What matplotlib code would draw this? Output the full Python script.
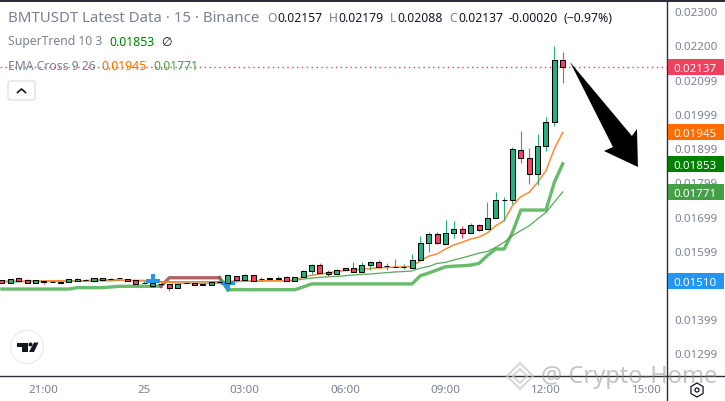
import matplotlib
matplotlib.use("Agg")
import matplotlib.pyplot as plt
from matplotlib.patches import Circle, FancyBboxPatch, Polygon, Rectangle, RegularPolygon

# bar number, 0 is the 21:00 bar, one bar is 15 minutes
bars = list(range(-5, 63))

opens = [.01512, .01505, .01518, .01512, .01505, .01510, .01509, .01509, .01507, .01511, .01513, .01510, .01514, .01515, .01518, .01516, .01513,
         .01505, .01495, .01501, .01502, .01491, .01505, .01505, .01502, .01500, .01507, .01505, .01524, .01512, .01527, .01515, .01519, .01515,
         .01521, .01511, .01521, .01539, .01557, .01536, .01532, .01542, .01548, .01538, .01557, .01565, .01553, .01551, .01552, .01548, .01571,
         .01621, .01647, .01618, .01650, .01662, .01650, .01673, .01662, .01694, .01746, .01746, .01893, .01869, .01823, .01904, .01975, .02157]
closes = [.01506, .01515, .01511, .01505, .01512, .01509, .01509, .01505, .01515, .01515, .01512, .01519, .01519, .01516, .01519, .01510, .01503,
          .01505, .01505, .01501, .01491, .01502, .01505, .01498, .01498, .01507, .01507, .01528, .01514, .01528, .01511, .01515, .01515, .01519,
          .01511, .01521, .01539, .01557, .01535, .01532, .01542, .01548, .01538, .01557, .01565, .01552, .01554, .01551, .01552, .01571, .01621,
          .01647, .01621, .01650, .01662, .01650, .01673, .01659, .01694, .01746, .01746, .01896, .01869, .01823, .01904, .01975, .02156, .02137]
highs = [.01513, .01516, .01519, .01517, .01513, .01511, .01510, .01510, .01516, .01519, .01516, .01520, .01519, .01519, .01519, .01516, .01513,
         .01510, .01506, .01502, .01502, .01502, .01505, .01505, .01502, .01508, .01507, .01531, .01524, .01531, .01527, .01521, .01519, .01524,
         .01524, .01521, .01542, .01560, .01563, .01542, .01545, .01548, .01565, .01565, .01568, .01571, .01563, .01574, .01560, .01589, .01641,
         .01653, .01653, .01689, .01685, .01671, .01679, .01676, .01741, .01770, .01755, .01901, .01948, .01899, .01939, .01989, .02197, .02179]
lows = [.01505, .01505, .01511, .01505, .01505, .01502, .01508, .01505, .01507, .01511, .01512, .01509, .01514, .01515, .01518, .01510, .01503,
        .01505, .01495, .01500, .01481, .01491, .01505, .01498, .01498, .01498, .01507, .01505, .01507, .01512, .01511, .01515, .01515, .01515,
        .01511, .01511, .01521, .01530, .01535, .01526, .01532, .01542, .01538, .01538, .01542, .01552, .01544, .01551, .01545, .01548, .01571,
        .01596, .01618, .01618, .01636, .01636, .01650, .01656, .01662, .01694, .01685, .01736, .01856, .01793, .01790, .01890, .01963, .02088]

ema_fast = [.01510, .01510, .01510, .01510, .01510, .01511, .01511, .01511, .01511, .01511, .01511, .01514, .01514, .01514, .01514, .01512, .01512,
            .01512, .01507, .01507, .01507, .01504, .01504, .01504, .01504, .01504, .01504, .01510, .01510, .01510, .01511, .01511, .01511, .01511,
            .01511, .01511, .01523, .01527, .01531, .01534, .01538, .01541, .01543, .01545, .01547, .01549, .01550, .01551, .01552, .01553, .01570,
            .01583, .01590, .01604, .01616, .01624, .01633, .01639, .01651, .01672, .01687, .01731, .01757, .01770, .01799, .01833, .01897, .01945]
ema_slow = [.01508, .01508, .01508, .01509, .01509, .01509, .01509, .01510, .01510, .01510, .01510, .01511, .01511, .01511, .01512, .01512, .01512,
            .01511, .01510, .01509, .01508, .01508, .01508, .01508, .01508, .01508, .01509, .01509, .01509, .01510, .01510, .01510, .01511, .01511,
            .01512, .01513, .01516, .01519, .01521, .01523, .01524, .01526, .01528, .01530, .01531, .01533, .01535, .01537, .01538, .01540, .01548,
            .01553, .01562, .01565, .01572, .01578, .01585, .01592, .01597, .01609, .01624, .01643, .01658, .01672, .01692, .01711, .01741, .01771]

trend_up_bars = list(range(-5, 15))
trend_up = [.01487, .01487, .01487, .01487, .01487, .01487, .01487, .01487, .01487, .01491, .01491, .01491, .01491, .01493, .01495, .01495, .01495,
            .01495, .01495, .01495]
trend_down_bars = [14, 15, 16, 17, 18, 19, 20, 21]
trend_down = [.01495, .01520, .01520, .01520, .01520, .01520, .01520, .01520]
trend_up2_bars = list(range(21, 63))
trend_up2 = [.01520, .01485, .01485, .01485, .01485, .01485, .01485, .01485, .01485, .01485, .01493, .01502, .01502, .01502, .01502, .01502, .01502,
             .01502, .01502, .01502, .01502, .01502, .01502, .01502, .01526, .01534, .01543, .01552, .01554, .01555, .01557, .01562, .01585, .01604,
             .01604, .01653, .01718, .01718, .01718, .01718, .01799, .01853]

cross_bars = [13, 22]
cross_prices = [.01510, .01505]

price_ticks = [.02300, .02200, .02099, .01999, .01899, .01799, .01699, .01599, .01399, .01299]
time_ticks = [0, 12, 24, 36, 48, 60, 72]
time_labels = ["21:00", "25", "03:00", "06:00", "09:00", "12:00", "15:00"]

last_price = .02137
tags = [(.02137, "0.02137", "#f23f5d"), (.01945, "0.01945", "#ff6d00"), (.01853, "0.01853", "#008000"),
        (.01771, "0.01771", "#43a047"), (.01510, "0.01510", "#2196f3")]

# arrow drawn on the chart, in bars and prices
arrow_bars = [62.87, 70.27, 70.87, 70.99, 66.93, 68.0]
arrow_prices = [.021509, .019345, .01955, .018439, .018906, .019023]

UP = "#24b07f"
DOWN = "#f5405f"
GREY = "#7b8194"

plt.rcParams["font.family"] = ["Noto Sans", "DejaVu Sans"]

W, H = 725, 402
fig = plt.figure(figsize=(W / 100, H / 100), dpi=100, facecolor="white")
ax = fig.add_axes([0, (H - 377) / H, 667 / W, 374 / H])
ax.set_xlim(-5.23, 74.46)
ax.set_ylim(.012327, .023263)

# price axis on the right, time axis below
ax.yaxis.tick_right()
ax.set_yticks(price_ticks)
ax.set_yticklabels([f"{p:.5f}" for p in price_ticks])
ax.set_xticks(time_ticks)
ax.set_xticklabels(time_labels)
ax.tick_params(axis="both", length=0, labelsize=8.3, labelcolor=GREY)
ax.tick_params(axis="x", pad=6)
ax.tick_params(axis="y", pad=5.5)
for s in ["top", "left"]:
    ax.spines[s].set_visible(False)
for s in ["right", "bottom"]:
    ax.spines[s].set_color("#2a2e39")
    ax.spines[s].set_linewidth(1.0)

# last price line
ax.axhline(last_price, color=DOWN, linewidth=1.0, linestyle=(0, (1, 2.5)), zorder=1)

# supertrend
ax.plot(trend_up_bars, trend_up, color="#4caf50", linewidth=2.4, alpha=0.85, zorder=2)
ax.plot(trend_up2_bars[1:], trend_up2[1:], color="#4caf50", linewidth=2.4, alpha=0.85, zorder=2)
ax.plot(trend_up2_bars[:2], trend_up2[:2], color="#3f9f55", linewidth=2.4, zorder=2)
ax.plot(trend_down_bars, trend_down, color="#a4484c", linewidth=2.4, alpha=0.85, zorder=2)

# ema cross
ax.plot(bars, ema_slow, color="#43a047", linewidth=0.9, alpha=0.9, zorder=2)
ax.plot(bars, ema_fast, color="#ff8a33", linewidth=1.1, zorder=3)

# cross markers
ax.plot(cross_bars, cross_prices, linestyle="none", marker="P", markersize=10, markerfacecolor="#2196f3",
        markeredgewidth=0, zorder=4)

# candles
for b, o, h, l, c in zip(bars, opens, highs, lows, closes):
    col = UP if c >= o else DOWN
    ax.vlines(b, l, h, color=col, linewidth=0.8, zorder=5)
    ax.bar(b, abs(c - o), bottom=min(o, c), width=0.6, color=col, edgecolor="black", linewidth=0.75, zorder=6)

# hand drawn arrow
ax.fill(arrow_bars, arrow_prices, color="black", linewidth=0, zorder=7)

# coloured price tags
tr = ax.get_yaxis_transform()
for price, text, col in tags:
    ax.add_patch(Rectangle((1.002, price - .000235), 0.083, .00047, transform=tr, facecolor=col, edgecolor="none",
                           clip_on=False, zorder=8))
    ax.text(1.0425, price, text, transform=tr, color="white", fontsize=8.3, fontweight="bold", ha="center",
            va="center_baseline", clip_on=False, zorder=9)

# overlay in pixels for the chart furniture
ov = fig.add_axes([0, 0, 1, 1], facecolor="none")
ov.set_xlim(0, W)
ov.set_ylim(H, 0)
ov.axis("off")

ov.add_patch(Rectangle((0, 0), W, 2.5, facecolor="#2a2e39", edgecolor="none"))
ov.plot([667, W], [377.3, 377.3], color="#2a2e39", linewidth=1.0)
ov.plot([667.3, 667.3], [377, H], color="#2a2e39", linewidth=1.0)


def label(x, y, s, color=GREY, size=9.0, **kw):
    ov.text(x, y, s, color=color, fontsize=size, va="center", ha="left", **kw)


label(8, 18, "BMTUSDT Latest Data · 15 · Binance", size=10.8)
for x, s, col in [(267, "O", GREY), (277, "0.02157", "#131722"), (329, "H", GREY), (338, "0.02179", "#131722"),
                  (390, "L", GREY), (397, "0.02088", "#131722"), (449, "C", GREY), (458, "0.02137", "#131722"),
                  (509, "-0.00020", "#131722"), (564, "(−0.97%)", "#131722")]:
    label(x, 18, s, color=col, size=8.8)
label(8, 42, "SuperTrend 10 3", size=8.8)
label(109, 42, "0.01853", color="#008000", size=8.8)
label(161, 42, "∅", color="#131722", size=8.8)
label(8, 67, "EMA Cross 9 26", size=8.8)
label(101, 67, "0.01945", color="#ff6d00", size=8.8)
label(153, 67, "0.01771", color="#43a047", size=8.8)

# collapse button
ov.add_patch(FancyBboxPatch((8, 82), 27, 19, boxstyle="round,pad=0,rounding_size=2.5", facecolor="white",
                            edgecolor="#d8dae0", linewidth=0.8))
ov.plot([17.5, 21.5, 25.5], [93.5, 90, 93.5], color="#131722", linewidth=1.2)

# tradingview logo
ov.add_patch(Circle((27, 348), 16.5, facecolor="white", edgecolor="#ebebeb", linewidth=0.9))
ov.add_patch(Polygon([(17, 343.5), (28, 343.5), (28, 353), (22.5, 353), (22.5, 347.5), (17, 347.5)], facecolor="#131722"))
ov.add_patch(Circle((30.5, 345.5), 2.0, facecolor="#131722"))
ov.add_patch(Polygon([(34, 343.5), (38.5, 343.5), (34, 353), (29, 353)], facecolor="#131722"))

# settings hexagon
ov.add_patch(RegularPolygon((697, 391), 6, radius=7, facecolor="white", edgecolor="#131722", linewidth=0.9))
ov.add_patch(Circle((697, 391), 2, facecolor="white", edgecolor="#131722", linewidth=0.9))

# watermark
ov.text(541, 377, "@ Crypto-Home", color="#8a8a8a", alpha=0.5, fontsize=17, va="center", ha="left", zorder=20)
for r in [13, 7]:
    ov.plot([520 - r, 520, 520 + r, 520, 520 - r], [377, 377 - r, 377, 377 + r, 377], color="#c4c4c4",
            alpha=0.7, linewidth=1.4, zorder=20)

fig.savefig("out.png", dpi=100, facecolor="white")
